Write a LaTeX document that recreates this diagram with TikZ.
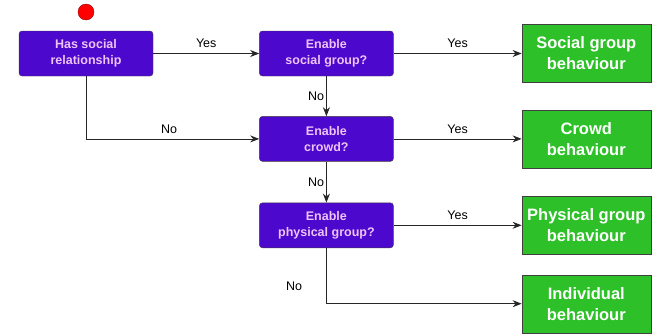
\documentclass[tikz,border=0pt]{standalone}
\usepackage{fontspec}
\setmainfont{Liberation Sans}
\usetikzlibrary{positioning}
\usetikzlibrary {arrows.meta}
\definecolor{choicefill}{RGB}{76,8,204}
\definecolor{choicetext}{RGB}{238,196,246}
\definecolor{resultfill}{RGB}{46,192,40}
\tikzset{choice/.style={rectangle,rounded corners=3pt,draw=black!75,fill=choicefill,
text=choicetext,font=\bfseries\fontsize{12.5}{16}\selectfont,align=center,
inner sep=2pt,minimum height=45pt, minimum width=134pt}}
\tikzset{result/.style={rectangle,draw=black!75,fill=resultfill,text=white,
font=\bfseries\fontsize{16.5}{21}\selectfont,align=center,
inner sep=2pt,minimum height=58pt, minimum width=129pt}}
\tikzset{startdot/.style={circle,draw=red!60!black,fill=red,inner sep=0pt,minimum size=16pt}}
\tikzset{answer/.style={font=\fontsize{12.5}{14}\selectfont,inner sep=2pt}}
\tikzset{flow/.style={line width=0.8pt,draw=black!85,-{Stealth[length=9pt,width=7pt]}}}

\begin{document}
\begin{tikzpicture}[x=1pt,y=-1pt]
        \useasboundingbox (0,0) rectangle (663,335);

        \node[startdot] (start) at (86,12) {};
        \node[choice] (boxHas) at (86,53.5) {Has social\\relationship};
        \node[choice] (boxSocialQ) [right=106pt of boxHas] {Enable\\social group?};
        \node[choice] (boxCrowdQ) [below=40pt of boxSocialQ] {Enable\\crowd?};
        \node[choice] (boxPhysQ) [below=41pt of boxCrowdQ] {Enable\\physical group?};

        \node[result] (boxSocial) [right=128pt of boxSocialQ] {Social group\\behaviour};
        \node[result] (boxCrowd) [right=128pt of boxCrowdQ] {Crowd\\behaviour};
        \node[result] (boxPhys) [right=128pt of boxPhysQ] {Physical group\\behaviour};
        \node[result] (boxIndiv) [below=20pt of boxPhys] {Individual\\behaviour};

        \draw [flow] (boxHas) --node[answer, above=3pt] {Yes} (boxSocialQ);
        \draw [flow] (boxHas.south) |-node[answer, above=3pt, pos=0.74] {No} (boxCrowdQ.west);

        \draw [flow] (boxSocialQ) --node[answer, above=3pt] {Yes} (boxSocial);
        \draw [flow] (boxSocialQ) --node[answer, left=0pt] {No} (boxCrowdQ);

        \draw [flow] (boxCrowdQ) --node[answer, above=3pt] {Yes} (boxCrowd);
        \draw [flow] (boxCrowdQ) --node[answer, left=0pt] {No} (boxPhysQ);

        \draw [flow] (boxPhysQ) --node[answer, above=3pt] {Yes} (boxPhys);
        \draw [flow] (boxPhysQ.south) |-node[answer, left=22pt, pos=0.34] {No} (boxIndiv.west);

    \end{tikzpicture}
\end{document}
